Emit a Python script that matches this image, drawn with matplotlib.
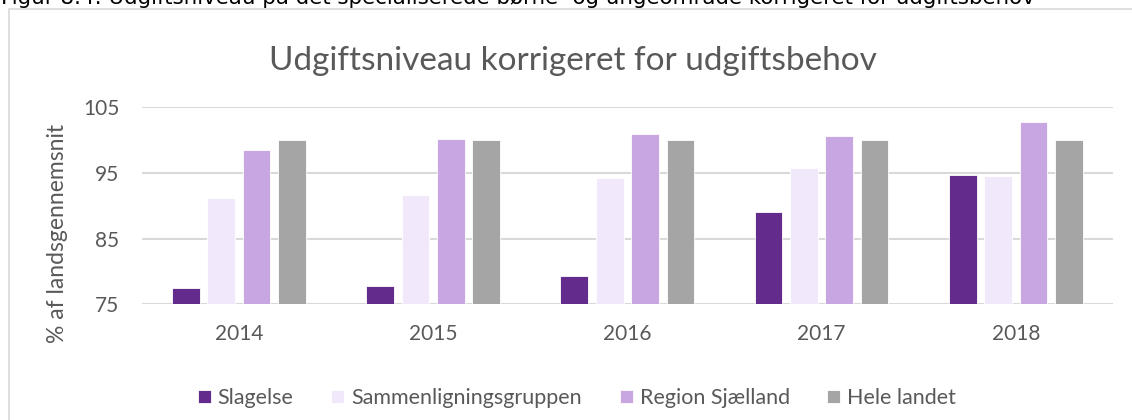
import numpy as np
import matplotlib.pyplot as plt
from matplotlib.patches import Rectangle

plt.rcParams['font.family'] = ['Lato', 'DejaVu Sans']

# Data
years = ['2014', '2015', '2016', '2017', '2018']
slagelse = [77.5, 77.8, 79.3, 89.0, 94.7]
sammenligning = [91.2, 91.6, 94.3, 95.7, 94.5]
region = [98.5, 100.1, 100.9, 100.6, 102.7]
hele_landet = [100, 100, 100, 100, 100]

series = [
    ('Slagelse', slagelse, '#632b8c'),
    ('Sammenligningsgruppen', sammenligning, '#f1e8fb'),
    ('Region Sjælland', region, '#c8a6e1'),
    ('Hele landet', hele_landet, '#a5a5a5'),
]

W, H = 1132, 420
fig = plt.figure(figsize=(W / 100, H / 100), dpi=100)

# Ramme om diagrammet (skåret af i højre side og bunden)
fig.patches.append(Rectangle((8.5 / W, -0.1), 1.2, 1.1 - 9.5 / H, transform=fig.transFigure,
                             fill=False, edgecolor='#d9d9d9', linewidth=1.2))

# Figurtekst øverst, halvt skåret af
fig.text(1 / W, 1 - 4 / H, 'Figur 8.4: Udgiftsniveau på det specialiserede børne- og ungeområde korrigeret for udgiftsbehov',
         ha='left', va='baseline', fontsize=15.4, color='black', family=['DejaVu Sans'])

ax = fig.add_axes([141.7 / W, 1 - 304.3 / H, (1113 - 141.7) / W, (304.3 - 107.3) / H])

x = np.arange(len(years))
width = 0.1426
pitch = 0.182
for i, (name, vals, col) in enumerate(series):
    ax.bar(x + (i - 1.5) * pitch, np.array(vals) - 75, width, bottom=75, color=col,
           label=name, zorder=3, edgecolor='white', linewidth=0.6)

ax.set_xlim(-0.5, len(years) - 0.5)
ax.set_ylim(75, 105)
ax.set_yticks([75, 85, 95, 105])
ax.set_xticks(x)
ax.set_xticklabels(years)
ax.yaxis.grid(True, color='#d9d9d9', linewidth=1.5, zorder=0)
ax.set_axisbelow(True)
for s in ['top', 'right', 'left', 'bottom']:
    ax.spines[s].set_visible(False)
ax.tick_params(axis='both', length=0, labelsize=15, colors='#595959')
ax.tick_params(axis='y', pad=16)
ax.tick_params(axis='x', pad=14)

fig.text(57 / W, 1 - 233 / H, '% af landsgennemsnit', rotation=90, ha='center', va='center',
         fontsize=16.5, color='#595959')

fig.text(573 / W, 1 - 70 / H, 'Udgiftsniveau korrigeret for udgiftsbehov', ha='center', va='baseline',
         fontsize=24, color='#595959')

leg = fig.legend(loc='center', bbox_to_anchor=(577 / W, 1 - 398 / H), ncol=4, frameon=False,
                 fontsize=15.5, handlelength=0.6, handleheight=0.6, handletextpad=0.33,
                 columnspacing=1.75, labelcolor='#595959')

fig.savefig('out.png', dpi=100)
